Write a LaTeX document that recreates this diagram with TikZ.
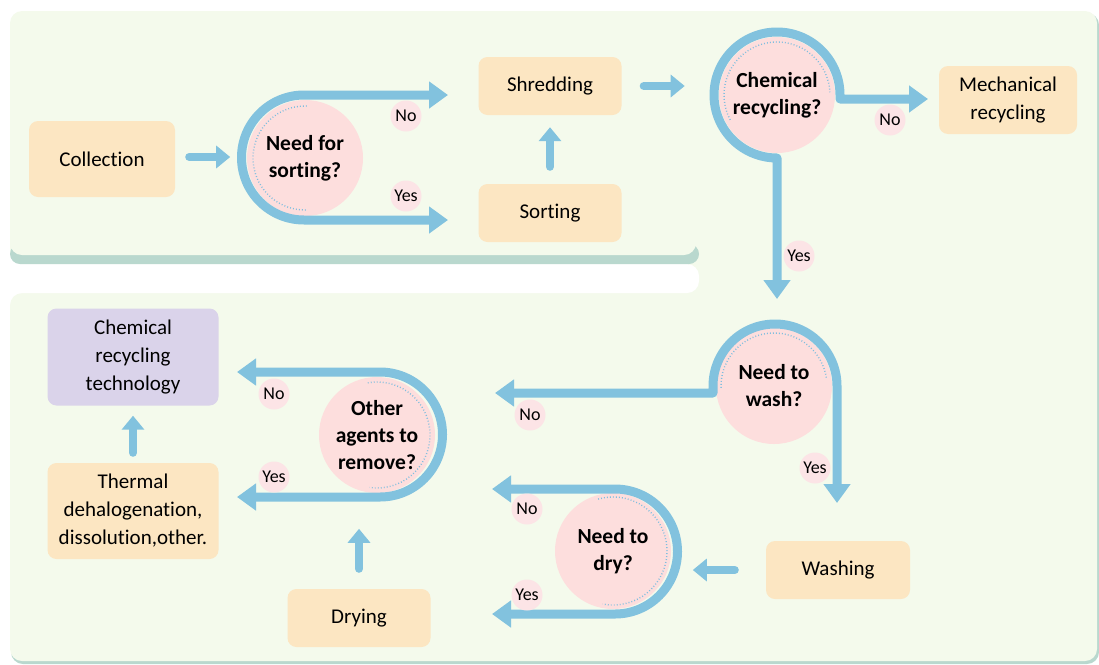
\documentclass[tikz,border=0pt]{standalone}
\usepackage{fontspec}
\setmainfont{Carlito}[Ligatures=NoCommon]
\usetikzlibrary{arrows.meta,calc}
\definecolor{panelgreen}{HTML}{F4FAEC}
\definecolor{shadowteal}{HTML}{B9D8CE}
\definecolor{flowblue}{HTML}{82C2DE}
\definecolor{dotblue}{HTML}{7FBEDF}
\definecolor{decpink}{HTML}{FDDEDD}
\definecolor{lblpink}{HTML}{FCE4E6}
\definecolor{boxorange}{HTML}{FCE6C2}
\definecolor{boxpurple}{HTML}{DAD3EA}
\begin{document}
\begin{tikzpicture}[x=1pt,y=-1pt,
 box/.style={rectangle, rounded corners=9pt, fill=boxorange, align=center, font=\fontsize{21}{28}\selectfont, inner sep=0pt},
 dec/.style={circle, fill=decpink, align=center, font=\fontsize{21.5}{27}\selectfont\bfseries, minimum size=116pt, inner sep=0pt},
 lbl/.style={circle, fill=lblpink, font=\fontsize{18}{18}\selectfont, minimum size=31pt, inner sep=0pt},
 flow/.style={draw=flowblue, line width=9pt, line join=round, {Triangle[width=26pt,length=19pt]}-{Triangle[width=26pt,length=19pt]}},
 sarrow/.style={draw=flowblue, line width=8pt, line cap=round, -{Triangle[width=22pt,length=14pt]}},
 dotring/.style={draw=dotblue, line width=1.4pt, dash pattern=on 0.9pt off 2.1pt},
]
\useasboundingbox (0,0) rectangle (1099,664);
% background panels
\fill[shadowteal, rounded corners=12pt] (11,13) rectangle (1099,664);
\fill[panelgreen, rounded corners=12pt] (10,11) rectangle (1097,661);
\fill[white, rounded corners=12pt] (-30,264) rectangle (699,293);
\fill[white] (10,264) -- (10,252) arc[start angle=180,end angle=90,radius=12] -- cycle;
\fill[white] (10,293) -- (22,293) arc[start angle=270,end angle=180,radius=12] -- cycle;
\fill[shadowteal, rounded corners=10pt] (10,244) rectangle (699,264);
\fill[panelgreen, rounded corners=12pt] (10,200) rectangle (696,255);

% boxes
\node[box, minimum width=146pt, minimum height=76pt] (coll) at (102,159) {Collection};
\node[box, minimum width=143pt, minimum height=58pt] (shred) at (550,86) {Shredding};
\node[box, minimum width=143pt, minimum height=58pt] (sort) at (550,213) {Sorting};
\node[box, minimum width=138pt, minimum height=68pt] (mech) at (1008,100) {Mechanical\\recycling};
\node[box, minimum width=144pt, minimum height=58pt] (wash) at (838,570) {Washing};
\node[box, minimum width=143pt, minimum height=58pt] (dry) at (359,618) {Drying};
\node[box, fill=boxpurple, minimum width=171pt, minimum height=97pt] (chem) at (133,357) {Chemical\\recycling\\technology};
\node[box, minimum width=171pt, minimum height=96pt] (therm) at (133,511) {Thermal\\dehalogenation,\\dissolution,other.};

% decisions
\node[dec] (d1) at (305,158) {Need for\\sorting?};
\node[dec] (d2) at (777,95) {Chemical\\recycling?};
\node[dec] (d3) at (774,386) {Need to\\wash?};
\node[dec] (d4) at (613,551) {Need to\\dry?};
\node[dec] (d5) at (377,435) {Other\\agents to\\remove?};

% dotted inner rings
\draw[dotring] (d1.center) ++(272:52) arc[start angle=272, end angle=88, radius=52];
\draw[dotring] (d2.center) ++(152:53) arc[start angle=152, end angle=357, radius=53];
\draw[dotring] (d3.center) ++(178:53) arc[start angle=178, end angle=352, radius=53];
\draw[dotring] (d4.center) ++(-106:54) arc[start angle=-106, end angle=101, radius=54];
\draw[dotring] (d5.center) ++(-100:53) arc[start angle=-100, end angle=98, radius=53];

% branch end points
\coordinate (d1no) at (448,95);
\coordinate (d1yes) at (448,220);
\coordinate (d2no) at (928,99);
\coordinate (d2yes) at (777,299);
\coordinate (d3no) at (495,393);
\coordinate (d3yes) at (837,503);
\coordinate (d4no) at (492,489);
\coordinate (d4yes) at (492,614);
\coordinate (d5no) at (237,372);
\coordinate (d5yes) at (237,497);

% decision flows
\draw[flow] (d1no) -- (304,95) arc[start angle=270, end angle=90, radius=62.5] -- (d1yes);
\draw[flow] (d2no) -- (840,99) -- (840,95) arc[start angle=0, end angle=-270, radius=63] -- (d2yes);
\draw[flow] (d3no) -- (713,393) -- (713,386) arc[start angle=180, end angle=360, radius=62] -- (d3yes);
\draw[flow] (d4no) -- (615,489) arc[start angle=-90, end angle=90, radius=62.5] -- (d4yes);
\draw[flow] (d5no) -- (380,372) arc[start angle=-90, end angle=90, radius=62.5] -- (d5yes);

% short arrows
\draw[sarrow] ([xshift=14pt,yshift=2pt]coll.east) -- ++(41,0);
\draw[sarrow, shorten <=17pt, shorten >=12pt] (sort.north) -- (shred.south);
\draw[sarrow] ([xshift=22pt]shred.east) -- ++(41,0);
\draw[sarrow] ([xshift=-31pt]wash.west) -- ++(-42,0);
\draw[sarrow] ([yshift=20pt]dry.north) -- ++(0,-40);
\draw[sarrow, shorten <=10pt, shorten >=10pt] (therm.north) -- (chem.south);

% labels
\node[lbl] (n1) at (406,116) {No};
\node[lbl] (y1) at (406,196) {Yes};
\node[lbl] (n2) at (890,120) {No};
\node[lbl] (y2) at (799,256) {Yes};
\node[lbl] (n3) at (530,415) {No};
\node[lbl] (y3) at (815,468) {Yes};
\node[lbl] (n4) at (527,509) {No};
\node[lbl] (y4) at (527,595) {Yes};
\node[lbl] (n5) at (274,394) {No};
\node[lbl] (y5) at (274,477) {Yes};
\end{tikzpicture}
\end{document}
